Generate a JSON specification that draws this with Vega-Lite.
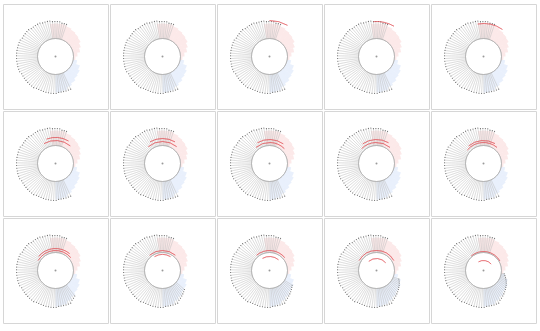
{
"$schema":"https://vega.github.io/schema/vega-lite/v6.json",
"padding":{"left":2,"top":3,"right":0,"bottom":0},
"config":{"view":{"stroke":"#d6d6d6","strokeWidth":1},
 "header":{"labels":false,"title":null,"labelPadding":0,"titlePadding":0,"labelFontSize":0},
 "headerFacet":{"labels":false,"title":null,"labelPadding":0,"titlePadding":0,"labelFontSize":0}},
"data":{"values":[
{"k":"o","p":[1,2,3,4,5,6,7,8,9,10,11,12,13,14,15]},
{"k":"s","a":99,"r":21,"p":[15]},
{"k":"s","a":103,"r":22,"p":[15]},
{"k":"s","a":107,"r":23,"p":[15]},
{"k":"s","a":111,"r":24,"p":[14,15]},
{"k":"s","a":115,"r":25,"p":[14,15]},
{"k":"s","a":119,"r":26,"p":[14,15]},
{"k":"s","a":123,"r":27,"p":[13,14,15]},
{"k":"s","a":127,"r":28,"p":[13,14,15]},
{"k":"s","a":131,"r":29,"p":[12,13,14,15]},
{"k":"s","a":135,"r":30,"p":[12,13,14,15]},
{"k":"s","a":139,"r":31,"p":[12,13,14,15]},
{"k":"s","a":143,"r":32,"p":[11,12,13,14,15]},
{"k":"s","a":147,"r":33,"p":[11,12,13,14,15]},
{"k":"s","a":151,"r":34,"p":[11,12,13,14,15]},
{"k":"s","a":155,"r":36,"p":[1,2,3,4,5,6,7,8,9,10,11,12,13,14,15]},
{"k":"s","a":159,"r":36,"p":[1,2,3,4,5,6,7,8,9,10,11,12,13,14,15]},
{"k":"s","a":163,"r":36,"p":[1,2,3,4,5,6,7,8,9,10,11,12,13,14,15]},
{"k":"s","a":167,"r":36,"p":[1,2,3,4,5,6,7,8,9,10,11,12,13,14,15]},
{"k":"s","a":171,"r":36,"p":[1,2,3,4,5,6,7,8,9,10,11,12,13,14,15]},
{"k":"s","a":175,"r":36,"p":[1,2,3,4,5,6,7,8,9,10,11,12,13,14,15]},
{"k":"s","a":179,"r":37,"p":[1,2,3,4,5,6,7,8,9,10,11,12,13,14,15]},
{"k":"s","a":183,"r":37,"p":[1,2,3,4,5,6,7,8,9,10,11,12,13,14,15]},
{"k":"s","a":187,"r":37,"p":[1,2,3,4,5,6,7,8,9,10,11,12,13,14,15]},
{"k":"s","a":191,"r":37,"p":[1,2,3,4,5,6,7,8,9,10,11,12,13,14,15]},
{"k":"s","a":195,"r":37,"p":[1,2,3,4,5,6,7,8,9,10,11,12,13,14,15]},
{"k":"s","a":199,"r":37,"p":[1,2,3,4,5,6,7,8,9,10,11,12,13,14,15]},
{"k":"s","a":203,"r":37,"p":[1,2,3,4,5,6,7,8,9,10,11,12,13,14,15]},
{"k":"s","a":207,"r":37,"p":[1,2,3,4,5,6,7,8,9,10,11,12,13,14,15]},
{"k":"s","a":211,"r":37,"p":[1,2,3,4,5,6,7,8,9,10,11,12,13,14,15]},
{"k":"s","a":215,"r":38,"p":[1,2,3,4,5,6,7,8,9,10,11,12,13,14,15]},
{"k":"s","a":219,"r":38,"p":[1,2,3,4,5,6,7,8,9,10,11,12,13,14,15]},
{"k":"s","a":223,"r":38,"p":[1,2,3,4,5,6,7,8,9,10,11,12,13,14,15]},
{"k":"s","a":227,"r":38,"p":[1,2,3,4,5,6,7,8,9,10,11,12,13,14,15]},
{"k":"s","a":231,"r":38,"p":[1,2,3,4,5,6,7,8,9,10,11,12,13,14,15]},
{"k":"s","a":235,"r":38,"p":[1,2,3,4,5,6,7,8,9,10,11,12,13,14,15]},
{"k":"s","a":239,"r":38,"p":[1,2,3,4,5,6,7,8,9,10,11,12,13,14,15]},
{"k":"s","a":243,"r":38,"p":[1,2,3,4,5,6,7,8,9,10,11,12,13,14,15]},
{"k":"s","a":247,"r":39,"p":[1,2,3,4,5,6,7,8,9,10,11,12,13,14,15]},
{"k":"s","a":251,"r":39,"p":[1,2,3,4,5,6,7,8,9,10,11,12,13,14,15]},
{"k":"s","a":255,"r":39,"p":[1,2,3,4,5,6,7,8,9,10,11,12,13,14,15]},
{"k":"s","a":259,"r":39,"p":[1,2,3,4,5,6,7,8,9,10,11,12,13,14,15]},
{"k":"s","a":263,"r":39,"p":[1,2,3,4,5,6,7,8,9,10,11,12,13,14,15]},
{"k":"s","a":267,"r":39,"p":[1,2,3,4,5,6,7,8,9,10,11,12,13,14,15]},
{"k":"s","a":271,"r":39,"p":[1,2,3,4,5,6,7,8,9,10,11,12,13,14,15]},
{"k":"s","a":275,"r":39,"p":[1,2,3,4,5,6,7,8,9,10,11,12,13,14,15]},
{"k":"s","a":279,"r":39,"p":[1,2,3,4,5,6,7,8,9,10,11,12,13,14,15]},
{"k":"s","a":283,"r":39,"p":[1,2,3,4,5,6,7,8,9,10,11,12,13,14,15]},
{"k":"s","a":287,"r":39,"p":[1,2,3,4,5,6,7,8,9,10,11,12,13,14,15]},
{"k":"s","a":291,"r":39,"p":[1,2,3,4,5,6,7,8,9,10,11,12,13,14,15]},
{"k":"s","a":295,"r":39,"p":[1,2,3,4,5,6,7,8,9,10,11,12,13,14,15]},
{"k":"s","a":299,"r":38,"p":[1,2,3,4,5,6,7,8,9,10,11,12,13,14,15]},
{"k":"s","a":303,"r":38,"p":[1,2,3,4,5,6,7,8,9,10,11,12,13,14,15]},
{"k":"s","a":307,"r":38,"p":[1,2,3,4,5,6,7,8,9,10,11,12,13,14,15]},
{"k":"s","a":311,"r":38,"p":[1,2,3,4,5,6,7,8,9,10,11,12,13,14,15]},
{"k":"s","a":315,"r":38,"p":[1,2,3,4,5,6,7,8,9,10,11,12,13,14,15]},
{"k":"s","a":319,"r":37,"p":[1,2,3,4,5,6,7,8,9,10,11,12,13,14,15]},
{"k":"s","a":323,"r":37,"p":[1,2,3,4,5,6,7,8,9,10,11,12,13,14,15]},
{"k":"s","a":327,"r":37,"p":[1,2,3,4,5,6,7,8,9,10,11,12,13,14,15]},
{"k":"s","a":331,"r":37,"p":[1,2,3,4,5,6,7,8,9,10,11,12,13,14,15]},
{"k":"s","a":335,"r":37,"p":[1,2,3,4,5,6,7,8,9,10,11,12,13,14,15]},
{"k":"s","a":339,"r":36,"p":[1,2,3,4,5,6,7,8,9,10,11,12,13,14,15]},
{"k":"s","a":343,"r":36,"p":[1,2,3,4,5,6,7,8,9,10,11,12,13,14,15]},
{"k":"s","a":347,"r":36,"p":[1,2,3,4,5,6,7,8,9,10,11,12,13,14,15]},
{"k":"s","a":351,"r":36,"p":[1,2,3,4,5,6,7,8,9,10,11,12,13,14,15]},
{"k":"s","a":355,"r":35,"p":[1,2,3,4,5,6,7,8,9,10,11,12,13,14,15]},
{"k":"s","a":359,"r":35,"p":[1,2,3,4,5,6,7,8,9,10,11,12,13,14,15]},
{"k":"s","a":363,"r":35,"p":[1,2,3,4,5,6,7,8,9,10,11,12,13,14,15]},
{"k":"s","a":367,"r":35,"p":[1,2,3,4,5,6,7,8,9,10,11,12,13,14,15]},
{"k":"s","a":371,"r":34,"p":[1,2,3,4,5,6,7,8,9,10,11,12,13,14,15]},
{"k":"s","a":375,"r":34,"p":[1,2,3,4,5,6,7,8,9,10,11,12,13,14,15]},
{"k":"s","a":379,"r":34,"p":[1,2,3,4,5,6,7,8,9,10,11,12,13,14,15]},
{"k":"l","a":-10,"b":0,"r":33,"p":[1,2,3,4,5,6,7,8,9,10,11,12,13,14,15]},
{"k":"l","a":0,"b":10,"r":33,"p":[1,2,3,4,5,6,7,8,9,10,11,12,13,14,15]},
{"k":"l","a":10,"b":20,"r":33,"p":[1,2,3,4,5,6,7,8,9,10,11,12,13,14,15]},
{"k":"l","a":20,"b":30,"r":32,"p":[1,2,3,4,5,6,7,8,9,10,11,12,13,14,15]},
{"k":"l","a":30,"b":40,"r":31,"p":[1,2,3,4,5,6,7,8,9,10,11,12,13,14,15]},
{"k":"l","a":40,"b":50,"r":30,"p":[1,2,3,4,5,6,7,8,9,10,11,12,13,14,15]},
{"k":"l","a":50,"b":60,"r":29,"p":[1,2,3,4,5,6,7,8,9,10,11,12,13,14,15]},
{"k":"l","a":60,"b":70,"r":27,"p":[1,2,3,4,5,6,7,8,9,10,11,12,13,14,15]},
{"k":"l","a":70,"b":80,"r":25,"p":[1,2,3,4,5,6,7,8,9,10,11,12,13,14,15]},
{"k":"l","a":80,"b":90,"r":22,"p":[1,2,3,4,5,6,7,8,9,10,11,12,13,14,15]},
{"k":"l","a":90,"b":100,"r":20,"p":[1,2,3,4,5,6,7,8,9,10,11,12,13,14,15]},
{"k":"m","a":100,"b":110,"r":22,"p":[1,2,3,4,5,6,7,8,9,10,11,12,13,14,15]},
{"k":"m","a":110,"b":120,"r":26,"p":[1,2,3,4,5,6,7,8,9,10,11,12,13,14,15]},
{"k":"m","a":120,"b":130,"r":28,"p":[1,2,3,4,5,6,7,8,9,10,11,12,13,14,15]},
{"k":"m","a":130,"b":140,"r":29,"p":[1,2,3,4,5,6,7,8,9,10,11,12,13,14,15]},
{"k":"m","a":140,"b":150,"r":31,"p":[1,2,3,4,5,6,7,8,9,10,11,12,13,14,15]},
{"k":"m","a":150,"b":160,"r":33,"p":[1,2,3,4,5,6,7,8,9,10,11,12,13,14,15]},
{"k":"m","a":160,"b":170,"r":35,"p":[1,2,3,4,5,6,7,8,9,10,11,12,13,14,15]},
{"k":"m","a":170,"b":180,"r":36,"p":[1,2,3,4,5,6,7,8,9,10,11,12,13,14,15]},
{"k":"d","a":0,"b":30,"r":36,"p":[3]},
{"k":"d","a":355,"b":390,"r":35,"p":[4]},
{"k":"d","a":350,"b":395,"r":33,"p":[5]},
{"k":"d","a":330,"b":400,"r":23,"p":[6]},
{"k":"d","a":340,"b":390,"r":26,"p":[6]},
{"k":"d","a":320,"b":400,"r":22,"p":[7]},
{"k":"d","a":330,"b":390,"r":25,"p":[7]},
{"k":"d","a":320,"b":405,"r":21,"p":[8]},
{"k":"d","a":330,"b":395,"r":24,"p":[8]},
{"k":"d","a":315,"b":400,"r":21,"p":[9]},
{"k":"d","a":325,"b":390,"r":24,"p":[9]},
{"k":"d","a":310,"b":400,"r":21,"p":[10]},
{"k":"d","a":320,"b":390,"r":23,"p":[10]},
{"k":"d","a":300,"b":410,"r":20,"p":[11]},
{"k":"d","a":310,"b":400,"r":22,"p":[11]},
{"k":"d","a":320,"b":400,"r":20,"p":[12]},
{"k":"d","a":330,"b":390,"r":16,"p":[12]},
{"k":"d","a":320,"b":410,"r":20,"p":[13]},
{"k":"d","a":330,"b":400,"r":14,"p":[13]},
{"k":"d","a":300,"b":420,"r":20,"p":[14]},
{"k":"d","a":320,"b":410,"r":12,"p":[14]},
{"k":"d","a":320,"b":420,"r":19,"p":[15]},
{"k":"d","a":330,"b":410,"r":10,"p":[15]}
]},
"transform":[{"flatten":["p"]}],
"facet":{"field":"p","type":"ordinal","header":{"title":null,"labels":false,"labelExpr":"''","labelFontSize":0,"labelPadding":0,"titlePadding":0}},
"columns":5,
"spacing":0,
"spec":{
"width":105,"height":105,
"view":{"stroke":"#d6d6d6","strokeWidth":1},
"layer":[
{"transform":[{"filter":"datum.k=='l'||datum.k=='m'"}],
 "mark":{"type":"arc","opacity":0.22},
 "encoding":{
  "theta":{"field":"a","type":"quantitative","stack":false,"scale":{"domain":[0,360]}},
  "theta2":{"field":"b"},
  "radius":{"field":"r","type":"quantitative","scale":{"type":"linear","domain":[0,50],"range":[0,50],"zero":true}},
  "radius2":{"datum":18},
  "color":{"field":"k","type":"nominal","scale":{"domain":["l","m"],"range":["#f29a9a","#9dbcf0"]},"legend":null}}},
{"transform":[{"filter":"datum.k=='s'"}],
 "mark":{"type":"arc","fill":null,"stroke":"#bdbdbd","strokeWidth":0.3},
 "encoding":{
  "theta":{"field":"a","type":"quantitative","stack":false,"scale":{"domain":[0,360]}},
  "theta2":{"field":"a"},
  "radius":{"field":"r","type":"quantitative","scale":{"type":"linear","domain":[0,50],"range":[0,50],"zero":true}},
  "radius2":{"datum":18}}},
{"transform":[{"filter":"datum.k=='s'"}],
 "mark":{"type":"arc","fill":null,"stroke":"#666","strokeWidth":1.1,"strokeCap":"round"},
 "encoding":{
  "theta":{"field":"a","type":"quantitative","stack":false,"scale":{"domain":[0,360]}},
  "theta2":{"field":"a"},
  "radius":{"field":"r","type":"quantitative","scale":{"type":"linear","domain":[0,50],"range":[0,50],"zero":true}},
  "radius2":{"field":"r"}}},
{"transform":[{"filter":"datum.k=='d'"}],
 "mark":{"type":"arc","fill":null,"stroke":"#e0484f","strokeWidth":0.8,"opacity":0.6},
 "encoding":{
  "theta":{"field":"a","type":"quantitative","stack":false,"scale":{"domain":[0,360]}},
  "theta2":{"field":"b"},
  "radius":{"field":"r","type":"quantitative","scale":{"type":"linear","domain":[0,50],"range":[0,50],"zero":true}},
  "radius2":{"field":"r"}}},
{"transform":[{"filter":"datum.k=='o'"}],
 "mark":{"type":"arc","fill":null,"stroke":"#aaa","strokeWidth":0.6},
 "encoding":{
  "theta":{"datum":0,"type":"quantitative","scale":{"domain":[0,360]}},
  "theta2":{"datum":360},
  "radius":{"datum":18,"type":"quantitative","scale":{"type":"linear","domain":[0,50],"range":[0,50],"zero":true}},
  "radius2":{"datum":18}}},
{"transform":[{"filter":"datum.k=='o'"}],
 "mark":{"type":"arc","fill":"#999","stroke":null},
 "encoding":{
  "theta":{"datum":0,"type":"quantitative","scale":{"domain":[0,360]}},
  "theta2":{"datum":360},
  "radius":{"datum":0,"type":"quantitative","scale":{"type":"linear","domain":[0,50],"range":[0,50],"zero":true}},
  "radius2":{"datum":1}}}
]}
}
